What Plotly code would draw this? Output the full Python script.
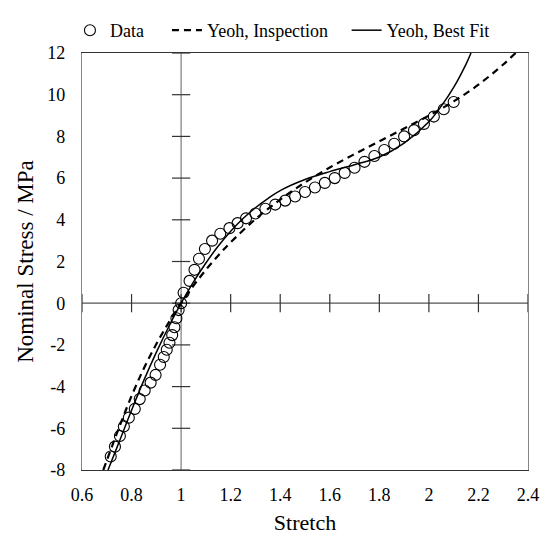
import plotly.graph_objects as go

# ---- data ----
data_x = [0.716, 0.733, 0.753, 0.769, 0.789, 0.813, 0.833, 0.853, 0.877, 0.897,
          0.915, 0.930, 0.942, 0.953, 0.964, 0.973, 0.981, 0.990, 1.000,
          1.010, 1.034, 1.054, 1.072, 1.096, 1.125, 1.158, 1.195, 1.228, 1.262,
          1.30, 1.34, 1.38, 1.42, 1.46, 1.50, 1.54, 1.58, 1.62, 1.66, 1.70,
          1.74, 1.78, 1.82, 1.86, 1.90, 1.94, 1.98, 2.02, 2.06, 2.10]
data_y = [-7.35, -6.88, -6.37, -5.91, -5.49, -5.07, -4.60, -4.19, -3.81, -3.44,
          -2.95, -2.58, -2.23, -1.90, -1.53, -1.15, -0.72, -0.33, 0.00,
          0.50, 1.07, 1.60, 2.13, 2.60, 3.00, 3.33, 3.60, 3.84, 4.07,
          4.30, 4.53, 4.73, 4.92, 5.12, 5.33, 5.55, 5.77, 6.00, 6.25, 6.50,
          6.78, 7.06, 7.35, 7.65, 8.00, 8.30, 8.60, 8.95, 9.30, 9.65]

insp_x = [0.686, 0.75, 0.80, 0.85, 0.90, 0.95, 1.00, 1.05, 1.10, 1.15, 1.20,
          1.30, 1.40, 1.50, 1.60, 1.70, 1.80, 1.90, 2.00, 2.10, 2.20, 2.30, 2.35]
insp_y = [-8.00, -5.95, -4.45, -3.12, -1.96, -0.93, 0.00, 0.84, 1.60, 2.29, 2.92,
          4.03, 4.97, 5.79, 6.51, 7.15, 7.76, 8.38, 9.00, 9.68, 10.48, 11.45, 12.0]

fit_x = [0.705, 0.75, 0.80, 0.85, 0.90, 0.95, 1.00, 1.05, 1.10, 1.15, 1.20, 1.25,
         1.30, 1.35, 1.40, 1.50, 1.60, 1.70, 1.80, 1.90, 2.00, 2.05, 2.10, 2.15, 2.17]
fit_y = [-8.00, -6.65, -5.13, -3.69, -2.36, -1.13, 0.00, 1.02, 1.93, 2.74, 3.45, 4.06,
         4.58, 5.02, 5.40, 5.93, 6.31, 6.64, 7.01, 7.68, 8.70, 9.45, 10.35, 11.47, 12.0]

x_ticks = [0.6, 0.8, 1.0, 1.2, 1.4, 1.6, 1.8, 2.0, 2.2, 2.4]
x_labels = ["0.6", "0.8", "1", "1.2", "1.4", "1.6", "1.8", "2", "2.2", "2.4"]
y_ticks = [-8, -6, -4, -2, 0, 2, 4, 6, 8, 10, 12]
y_labels = ["-8", "-6", "-4", "-2", "0", "2", "4", "6", "8", "10", "12"]

FONT = "Liberation Serif"
GREY = "#868686"
NB = "\u00a0"

fig = go.Figure()

# crossing axes (x = 1, y = 0) with cross ticks
fig.add_shape(type="line", x0=1, x1=1, y0=-8, y1=12, xref="x", yref="y",
              line=dict(color=GREY, width=1.3), layer="below")
fig.add_shape(type="line", x0=0.6, x1=2.4, y0=0, y1=0, xref="x", yref="y",
              line=dict(color="#555555", width=1.3), layer="below")
fig.add_trace(go.Scatter(x=[1] * len(y_ticks), y=y_ticks, mode="markers",
                         marker=dict(symbol="line-ew", size=13,
                                     line=dict(color="#333333", width=1.2)),
                         showlegend=False, hoverinfo="skip"))
fig.add_trace(go.Scatter(x=x_ticks, y=[0] * len(x_ticks), mode="markers",
                         marker=dict(symbol="line-ns", size=13,
                                     line=dict(color="#333333", width=1.2)),
                         showlegend=False, hoverinfo="skip"))

fig.add_trace(go.Scatter(x=data_x, y=data_y, mode="markers", name="Data" + NB * 4,
                         marker=dict(symbol="circle-open", size=11,
                                     color="black", line=dict(width=1.1))))
fig.add_trace(go.Scatter(x=insp_x, y=insp_y, mode="lines",
                         name="Yeoh, Inspection" + NB * 3,
                         line=dict(color="black", width=2.2, dash="7px,5px",
                                   shape="spline")))
fig.add_trace(go.Scatter(x=fit_x, y=fit_y, mode="lines", name="Yeoh, Best Fit",
                         line=dict(color="black", width=1.5, shape="spline")))

fig.update_layout(
    width=551, height=543,
    margin=dict(l=82, r=21, t=40, b=73),
    paper_bgcolor="white", plot_bgcolor="white",
    font=dict(family=FONT, size=18, color="black"),
    showlegend=True,
    legend=dict(orientation="h", x=-0.027, y=1.054, xanchor="left", yanchor="middle",
                font=dict(family=FONT, size=18),
                bgcolor="rgba(0,0,0,0)", tracegroupgap=0),
    xaxis=dict(range=[0.6, 2.4], tickvals=x_ticks, ticktext=x_labels,
               showgrid=False, zeroline=False, showline=True, mirror=True,
               linecolor="#333333", linewidth=1.2, ticks="",
               ticklabelstandoff=8,
               title=dict(text="Stretch", font=dict(family=FONT, size=22), standoff=10)),
    yaxis=dict(range=[-8, 12], tickvals=y_ticks, ticktext=y_labels,
               showgrid=False, zeroline=False, showline=True, mirror=True,
               linecolor=GREY, linewidth=1.2, ticks="",
               ticklabelstandoff=12,
               title=dict(text="Nominal Stress / MPa", font=dict(family=FONT, size=23),
                          standoff=7)),
)

fig.write_html("out.html")
